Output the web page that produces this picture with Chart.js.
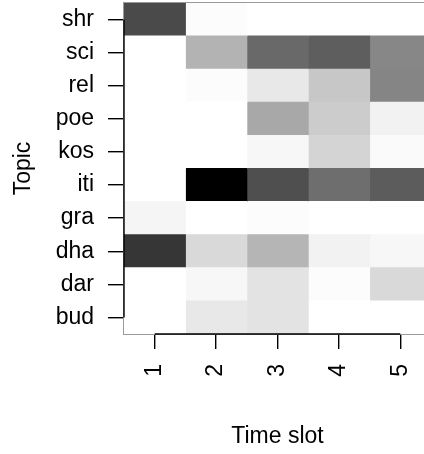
<!DOCTYPE html>
<html><head><meta charset="utf-8">
<script src="https://cdn.jsdelivr.net/npm/chart.js@4/dist/chart.umd.min.js"></script>
<style>html,body{margin:0;padding:0;overflow:hidden;background:#fff;width:424px;height:454px}</style>
</head><body>
<canvas id="c" width="431" height="454" style="display:block"></canvas>
<script>
const topics = ['shr','sci','rel','poe','kos','iti','gra','dha','dar','bud'];
const timeSlots = [1, 2, 3, 4, 5];
// darkness per cell (0 = white, 1 = black), one array per time slot, ordered like topics
const slot1 = [0.71, 0.00, 0.00, 0.00, 0.00, 0.00, 0.04, 0.79, 0.00, 0.00];
const slot2 = [0.01, 0.30, 0.01, 0.00, 0.00, 1.00, 0.00, 0.15, 0.03, 0.09];
const slot3 = [0.00, 0.59, 0.09, 0.34, 0.03, 0.69, 0.01, 0.29, 0.11, 0.11];
const slot4 = [0.00, 0.63, 0.22, 0.20, 0.17, 0.57, 0.00, 0.05, 0.01, 0.00];
const slot5 = [0.00, 0.47, 0.48, 0.05, 0.02, 0.64, 0.00, 0.03, 0.15, 0.00];
const slotValues = [slot1, slot2, slot3, slot4, slot5];

const gray = v => { const g = Math.round(255 * (1 - v)); return `rgb(${g},${g},${g})`; };
const font = { family: '"Liberation Sans", Arial, sans-serif', size: 23 };

const datasets = timeSlots.map((s, i) => ({
  label: 'Slot ' + s,
  data: topics.map(() => [s - 0.5, s + 0.5]),
  backgroundColor: slotValues[i].map(gray),
  borderWidth: 0,
  inflateAmount: 0.5,
  grouped: false,
  barPercentage: 1,
  categoryPercentage: 1
}));

const axisPlugin = {
  id: 'rAxes',
  afterDatasetsDraw(chart) {
    const { ctx, chartArea: a, scales: { x, y } } = chart;
    ctx.save();
    ctx.strokeStyle = '#9a9a9a';
    ctx.lineWidth = 1;
    ctx.strokeRect(a.left - 0.5, a.top - 0.5, a.right - a.left + 1, a.bottom - a.top + 1);
    ctx.strokeStyle = '#000';
    ctx.lineWidth = 1.4;
    ctx.beginPath();
    ctx.moveTo(x.getPixelForValue(timeSlots[0]), a.bottom);
    ctx.lineTo(x.getPixelForValue(timeSlots[timeSlots.length - 1]), a.bottom);
    ctx.moveTo(a.left, y.getPixelForValue(0));
    ctx.lineTo(a.left, y.getPixelForValue(topics.length - 1));
    ctx.stroke();
    ctx.restore();
  }
};

new Chart(document.getElementById('c'), {
  type: 'bar',
  data: { labels: topics, datasets },
  plugins: [axisPlugin],
  options: {
    indexAxis: 'y',
    responsive: false,
    animation: false,
    layout: { padding: { top: 3, left: 0, right: 0, bottom: 0 } },
    plugins: { legend: { display: false }, tooltip: { enabled: false } },
    scales: {
      x: {
        type: 'linear', min: 0.5, max: 5.5,
        afterBuildTicks: s => { s.ticks = timeSlots.map(v => ({ value: v })); },
        afterFit: s => { s.height = 120; s.paddingLeft = 0; s.paddingRight = 0; },
        ticks: { minRotation: 90, maxRotation: 90, padding: 15, color: '#000', font },
        grid: { drawOnChartArea: false, drawTicks: true, tickLength: 15, color: '#000', lineWidth: 1.4 },
        border: { display: false },
        title: { display: true, text: 'Time slot', color: '#000', font, padding: { top: 0, bottom: 4 } }
      },
      y: {
        type: 'category', offset: true,
        afterFit: s => { s.width = 124; s.paddingTop = 0; s.paddingBottom = 0; },
        ticks: { padding: 14, color: '#000', font },
        grid: { offset: false, drawOnChartArea: false, drawTicks: true, tickLength: 16, color: '#000', lineWidth: 1.4 },
        border: { display: false },
        title: { display: true, text: 'Topic', color: '#000', font, padding: { top: 10, bottom: 0 } }
      }
    }
  }
});
</script>
</body></html>
